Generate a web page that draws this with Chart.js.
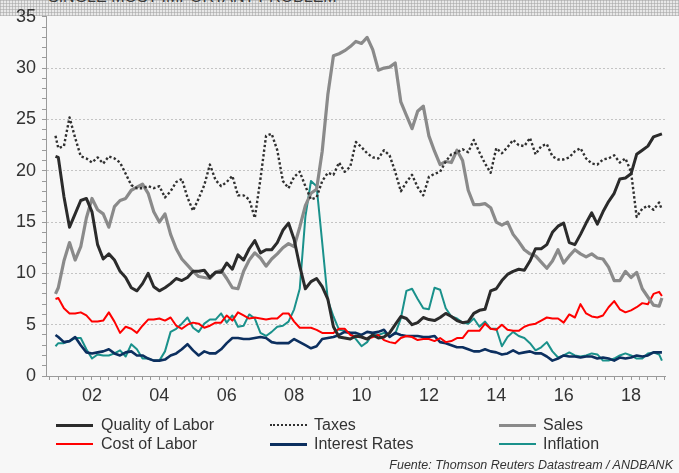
<!DOCTYPE html>
<html>
<head>
<meta charset="utf-8">
<script src="https://cdn.jsdelivr.net/npm/chart.js@4.4.0/dist/chart.umd.min.js"></script>
<style>
html,body{margin:0;padding:0;background:#f7f7f7;}
#wrap{position:relative;width:679px;height:473px;overflow:hidden;background:#f7f7f7;font-family:"Liberation Sans",Arial,sans-serif;}
#band{position:absolute;left:0;top:0;width:679px;height:16px;background-color:#e8e8e8;
  background-image:repeating-linear-gradient(90deg, rgba(165,165,165,0.55) 0 1px, transparent 1px 3px),
                   repeating-linear-gradient(0deg, rgba(165,165,165,0.55) 0 1px, transparent 1px 3px);}
#title{position:absolute;left:48px;top:-11px;font-size:16px;line-height:16px;color:#3a3a3a;white-space:nowrap;}
canvas{position:absolute;left:0;top:0;}
.leg{position:absolute;font-size:16px;line-height:18px;color:#333;white-space:nowrap;}
.sw{position:absolute;height:0;}
#src{position:absolute;right:6px;top:458px;font-size:12.5px;font-style:italic;color:#333;white-space:nowrap;}
</style>
</head>
<body>
<div id="wrap">
  <div id="band"></div>
  <div id="title">SINGLE MOST IMPORTANT PROBLEM</div>
  <canvas id="c" width="679" height="473"></canvas>
  <div id="legend"></div>
  <div id="src">Fuente: Thomson Reuters Datastream / ANDBANK</div>
</div>
<script>
// ---- data (month offsets from Jan 2001; first = Dec 2000, then every 2 months, last = Dec 2018)
const monthOffsets = [-1].concat(Array.from({length:108}, (_, k) => 2 * k)).concat([215]);

const qualityOfLabor = [21.4,
 21.3,17.5,14.5,15.8,17.1,17.3,16.0,12.8,11.4,11.9,
 11.3,10.2,9.6,8.6,8.3,9.0,10.0,8.7,8.3,8.6,
 9.0,9.5,9.3,9.6,10.2,10.2,10.3,9.6,10.1,10.1,
 11.0,10.4,11.8,11.3,12.4,13.2,12.0,12.3,12.3,13.0,
 14.2,14.9,13.3,10.7,8.5,9.2,9.5,8.7,7.5,4.8,
 3.8,3.7,3.6,3.9,3.8,3.6,4.0,3.7,3.8,4.2,
 5.0,5.8,5.6,5.0,5.2,5.7,5.5,5.4,5.7,6.1,
 5.8,5.4,5.2,5.3,6.1,6.4,6.5,8.3,8.5,9.3,
 9.9,10.2,10.4,10.3,11.2,12.4,12.4,12.8,14.0,14.6,
 14.9,13.0,12.8,13.8,14.9,15.9,14.8,16.0,17.0,17.8,
 19.2,19.3,19.7,21.6,22.0,22.4,23.3,23.5,
 23.6];

const taxes = [23.4,
 22.2,22.4,25.2,23.2,21.4,21.2,20.8,21.3,20.7,21.4,
 21.2,20.8,19.7,18.6,18.3,18.3,18.5,18.3,18.5,17.4,
 18.0,18.9,19.2,17.4,16.1,17.3,18.6,20.6,19.1,18.5,
 18.9,19.5,17.6,17.6,17.2,15.4,19.2,23.4,23.6,22.0,
 19.0,18.3,19.4,19.9,18.5,17.2,17.4,19.0,19.8,19.6,
 20.8,19.9,20.4,22.8,22.3,21.7,21.3,21.2,22.0,21.5,
 19.9,18.0,18.9,19.6,18.4,17.6,19.4,19.7,19.9,20.9,
 21.6,21.8,22.1,21.8,23.0,21.8,20.7,19.8,22.2,21.7,
 22.3,23.0,22.5,22.4,23.2,21.6,22.4,22.6,21.4,21.1,
 21.1,21.3,21.9,22.2,21.2,20.7,20.6,21.1,21.2,21.5,
 20.8,21.2,19.9,15.5,16.3,16.6,16.2,16.9,
 16.2];

const sales = [8.0,
 8.6,11.2,13.0,11.3,12.6,15.4,17.3,16.2,15.8,14.5,
 16.5,17.1,17.3,18.1,18.4,18.7,17.8,16.0,15.0,15.8,
 13.8,12.4,11.4,10.8,10.2,9.7,9.6,9.5,10.1,10.3,
 9.5,8.6,8.5,10.2,11.3,12.0,11.5,10.7,11.4,11.9,
 12.5,12.9,12.6,14.5,16.6,17.8,18.2,21.9,27.4,31.2,
 31.4,31.7,32.1,32.6,32.4,33.0,31.8,29.8,30.0,30.1,
 30.5,26.7,25.4,24.1,25.8,26.3,23.4,21.9,20.6,20.9,
 20.8,22.0,21.0,18.1,16.7,16.7,16.8,16.4,15.0,14.7,
 15.0,13.8,13.1,12.3,11.9,11.7,11.1,10.5,11.2,12.3,
 11.0,11.7,12.3,11.9,11.6,11.9,11.5,11.4,10.6,9.3,
 9.3,10.2,9.6,10.1,8.5,7.7,6.9,6.8,
 7.6];

const costOfLabor = [7.5,
 7.6,6.6,6.1,6.1,6.2,5.9,5.3,5.3,5.4,6.2,
 5.3,4.2,4.8,4.6,4.2,4.9,5.5,5.5,5.6,5.4,
 5.7,4.9,4.6,5.0,5.2,5.1,4.7,4.9,5.2,5.2,
 5.9,5.4,6.2,5.9,5.6,5.7,5.6,5.5,5.6,5.6,
 6.1,6.1,5.3,4.7,4.7,4.7,4.5,4.2,4.2,4.2,
 4.6,4.6,4.0,3.8,3.8,3.6,3.8,4.0,3.5,3.3,
 3.2,3.7,3.9,3.8,3.5,3.6,3.6,3.4,3.7,3.3,
 3.4,3.7,3.7,4.4,4.4,4.4,5.1,4.6,4.5,5.0,
 4.5,4.4,4.4,4.8,5.0,5.1,5.4,5.7,5.6,5.6,
 5.2,6.0,5.7,7.0,6.1,5.8,5.7,5.9,6.7,7.3,
 6.5,6.2,6.4,6.7,7.1,7.0,8.0,8.2,
 7.8];

const interestRates = [4.0,
 3.8,3.3,3.4,3.8,3.0,2.3,2.2,2.3,2.4,2.6,
 2.2,2.0,2.3,2.4,2.0,2.0,1.7,1.5,1.5,1.6,
 2.0,2.2,2.6,3.1,2.5,2.0,2.4,2.2,2.2,2.6,
 3.2,3.7,3.7,3.6,3.6,3.7,3.8,3.7,3.3,3.2,
 3.2,3.2,3.6,3.3,3.0,2.7,2.9,3.6,3.7,3.8,
 4.0,4.3,4.2,4.2,4.0,4.3,4.2,4.3,4.5,3.8,
 4.2,4.0,3.9,3.9,3.9,3.8,3.8,3.9,3.3,3.2,
 3.0,2.8,2.8,2.6,2.4,2.4,2.6,2.4,2.3,2.1,
 2.2,2.5,2.2,2.3,2.4,2.2,2.2,1.9,1.5,1.7,
 2.0,1.9,1.9,1.8,1.9,1.9,1.7,1.8,1.7,1.5,
 1.8,1.7,1.8,2.0,1.9,2.0,2.3,2.3,
 2.3];

const inflation = [2.9,
 3.2,3.2,3.4,3.7,3.7,2.6,1.7,2.1,2.0,2.0,
 2.2,2.5,1.9,3.1,2.6,1.7,1.7,1.5,1.5,2.4,
 4.3,4.6,5.1,5.7,4.7,4.3,5.1,5.5,5.5,6.1,
 5.2,5.9,4.8,4.9,6.0,5.6,4.2,3.9,4.3,4.8,
 4.9,5.3,6.5,8.5,15.5,19.0,18.5,13.0,7.4,5.8,
 4.5,4.4,4.2,3.6,2.9,3.3,4.1,4.0,4.2,3.9,
 4.1,5.6,8.3,8.5,7.5,6.6,6.5,8.6,8.4,6.6,
 5.8,5.6,5.2,5.1,5.6,4.8,5.3,4.6,4.6,2.9,
 3.8,4.3,3.9,3.7,3.2,2.5,2.8,3.3,2.4,1.8,
 2.0,2.3,2.0,1.9,2.0,2.2,2.1,1.5,1.5,1.7,
 2.0,2.2,2.0,1.7,1.7,2.2,2.3,2.1,
 1.5];

const seriesNames = ['Quality of Labor','Taxes','Sales','Cost of Labor','Interest Rates','Inflation'];
const labeledYears = [2002,2004,2006,2008,2010,2012,2014,2016,2018];
const yearLabels = ['02','04','06','08','10','12','14','16','18'];
const yTickLabels = ['0','5','10','15','20','25','30','35'];
const sourceText = 'Fuente: Thomson Reuters Datastream / ANDBANK';

// ---- styles
const styles = [
  {color:'#2b2b2b', width:3, dash:[]},
  {color:'#303030', width:2.4, dash:[2.4,2.3]},
  {color:'#8a8a8a', width:3.2, dash:[]},
  {color:'#ff0000', width:2, dash:[]},
  {color:'#0c2f5f', width:2.6, dash:[]},
  {color:'#1a918b', width:2, dash:[]}
];
const allSeries = [qualityOfLabor, taxes, sales, costOfLabor, interestRates, inflation];

const toPoints = arr => arr.map((v, i) => ({x: 2001 + monthOffsets[i] / 12, y: v}));

const datasets = allSeries.map((arr, i) => ({
  label: seriesNames[i],
  data: toPoints(arr),
  borderColor: styles[i].color,
  borderWidth: styles[i].width,
  borderDash: styles[i].dash,
  pointRadius: 0,
  tension: 0,
  fill: false,
  borderJoinStyle: 'round',
  borderCapStyle: 'butt'
}));

const quarterTicks = Array.from({length: 74}, (_, i) => 2000.75 + i * 0.25);

new Chart(document.getElementById('c').getContext('2d'), {
  type: 'line',
  data: {datasets},
  options: {
    responsive: false,
    animation: false,
    layout: {padding: {left: 0, right: 14, top: 13, bottom: 67}},
    plugins: {legend: {display: false}, tooltip: {enabled: false}},
    scales: {
      x: {
        type: 'linear',
        min: 2000.635,
        max: 2019.008,
        afterFit: s => { s.height = 30; },
        afterBuildTicks: s => { s.ticks = quarterTicks.map(v => ({value: v})); },
        ticks: {
          autoSkip: false, maxRotation: 0, minRotation: 0, padding: 5,
          color: '#333', font: {family: 'Liberation Sans', size: 18},
          callback: v => {
            const idx = labeledYears.findIndex(y => Math.abs(y - v) < 1e-6);
            return idx >= 0 ? yearLabels[idx] : '';
          }
        },
        grid: {drawOnChartArea: false, tickLength: 4, tickColor: '#9a9a9a'},
        border: {color: '#9a9a9a', width: 1}
      },
      y: {
        min: 0, max: 35,
        afterFit: s => { s.width = 46; },
        ticks: {
          stepSize: 1, autoSkip: false, padding: 6,
          color: '#333', font: {family: 'Liberation Sans', size: 18},
          callback: v => (v % 5 === 0 ? yTickLabels[v / 5] : '')
        },
        grid: {
          color: c => (c.tick && c.tick.value % 5 === 0 && c.tick.value > 0 && c.tick.value < 35) ? '#c4c4c4' : 'rgba(0,0,0,0)',
          lineWidth: 1, tickLength: 4, tickColor: '#9a9a9a'
        },
        border: {color: '#9a9a9a', width: 1, dash: [2, 2]}
      }
    }
  }
});

// ---- HTML legend
const legendPos = [
  {left: 101, top: 416, swLeft: 56}, {left: 314, top: 416, swLeft: 270}, {left: 543, top: 416, swLeft: 499},
  {left: 101, top: 435, swLeft: 56}, {left: 314, top: 435, swLeft: 270}, {left: 543, top: 435, swLeft: 499}
];
const legendOrder = [0, 1, 2, 3, 4, 5];
const leg = document.getElementById('legend');
legendOrder.forEach((si, j) => {
  const p = legendPos[j];
  const st = styles[si];
  const sw = document.createElement('div');
  sw.className = 'sw';
  sw.style.left = p.swLeft + 'px';
  sw.style.width = '37px';
  const w = Math.round(st.width);
  sw.style.top = (p.top + 9 - w / 2) + 'px';
  sw.style.borderTop = w + 'px ' + (st.dash.length ? 'dotted' : 'solid') + ' ' + st.color;
  leg.appendChild(sw);
  const t = document.createElement('div');
  t.className = 'leg';
  t.style.left = p.left + 'px';
  t.style.top = p.top + 'px';
  t.textContent = seriesNames[si];
  leg.appendChild(t);
});
document.getElementById('src').textContent = sourceText;
</script>
</body>
</html>
